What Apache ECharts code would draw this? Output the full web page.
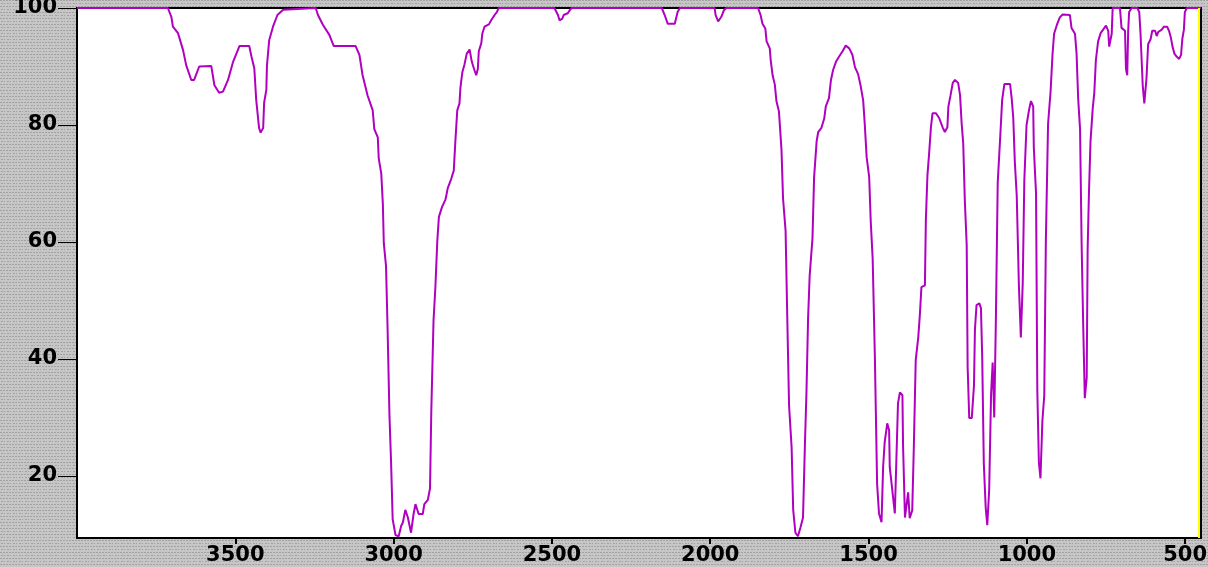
<!DOCTYPE html>
<html>
<head>
<meta charset="utf-8">
<title>IR spectrum</title>
<script src="https://cdn.jsdelivr.net/npm/echarts@6/dist/echarts.min.js"></script>
<style>
  html, body { margin: 0; padding: 0; background: #c4c4c4; }
  #chart { width: 1208px; height: 567px; }
</style>
</head>
<body>
<div id="chart"></div>
<script>
const wavenumbers = [
  4000, 3713, 3702, 3697, 3681, 3665, 3655, 3639, 3630, 3614, 3576, 3566, 3551, 3539, 3523, 3507,
  3487, 3456, 3449, 3440, 3434, 3425, 3420, 3412, 3409, 3402, 3400, 3393, 3381, 3367, 3349, 3344,
  3246, 3239, 3223, 3203, 3189, 3120, 3108, 3098, 3082, 3066, 3061, 3050, 3047, 3039, 3034, 3031,
  3024, 3019, 3013, 3008, 3003, 2994, 2984, 2976, 2971, 2963, 2955, 2945, 2937, 2931, 2921, 2908,
  2903, 2892, 2885, 2881, 2874, 2868, 2862, 2857, 2847, 2836, 2829, 2818, 2810, 2805, 2799, 2792,
  2789, 2783, 2776, 2769, 2760, 2753, 2745, 2739, 2734, 2731, 2723, 2720, 2713, 2699, 2692, 2681,
  2674, 2668, 2492, 2481, 2476, 2467, 2463, 2450, 2444, 2438, 2153, 2144, 2134, 2112, 2103, 2096,
  1986, 1983, 1975, 1965, 1957, 1949, 1849, 1841, 1835, 1826, 1822, 1812, 1809, 1803, 1796, 1791,
  1783, 1775, 1770, 1762, 1757, 1751, 1743, 1738, 1731, 1723, 1715, 1707, 1701, 1696, 1691, 1686,
  1677, 1672, 1664, 1659, 1649, 1640, 1635, 1625, 1619, 1612, 1603, 1593, 1582, 1572, 1561, 1551,
  1543, 1533, 1525, 1517, 1512, 1506, 1498, 1493, 1487, 1480, 1473, 1467, 1459, 1454, 1449, 1441,
  1435, 1433, 1425, 1417, 1412, 1407, 1401, 1393, 1391, 1385, 1380, 1375, 1370, 1362, 1357, 1351,
  1343, 1338, 1333, 1322, 1319, 1314, 1309, 1303, 1298, 1287, 1277, 1266, 1259, 1251, 1248, 1241,
  1234, 1227, 1217, 1211, 1206, 1201, 1196, 1190, 1187, 1182, 1174, 1167, 1164, 1159, 1150, 1145,
  1141, 1136, 1130, 1125, 1119, 1113, 1108, 1103, 1098, 1092, 1085, 1078, 1071, 1053, 1048, 1043,
  1038, 1032, 1025, 1019, 1013, 1008, 1001, 993, 987, 980, 978, 971, 967, 962, 957, 951,
  945, 940, 933, 925, 919, 914, 904, 896, 887, 864, 859, 848, 843, 838, 832, 827,
  822, 817, 811, 808, 804, 799, 792, 787, 782, 775, 767, 759, 750, 743, 740, 735,
  732, 729, 706, 701, 690, 687, 683, 680, 677, 669, 651, 645, 641, 634, 629, 624,
  622, 617, 609, 604, 595, 590, 585, 574, 567, 557, 551, 545, 540, 534, 527, 519,
  513, 509, 504, 501, 495, 450
];

// transmittance (%) at each wavenumber above
const transmittance = [
  100, 100, 98.5, 96.8, 95.7, 92.8, 90.2, 87.7, 87.7, 90.0, 90.1, 86.8, 85.5, 85.7, 87.7, 90.8,
  93.5, 93.5, 91.7, 89.7, 84.3, 79.5, 78.7, 79.5, 83.8, 86.0, 90.2, 94.5, 96.8, 98.8, 99.7, 100,
  100, 98.8, 97.1, 95.4, 93.5, 93.5, 92.0, 88.5, 85.0, 82.5, 79.3, 77.9, 74.3, 71.7, 66.5, 59.8,
  55.9, 45.1, 30.1, 22.3, 12.6, 9.9, 9.7, 11.5, 12.0, 14.2, 12.9, 10.3, 13.5, 15.2, 13.5, 13.5,
  15.2, 15.9, 17.9, 31.1, 46.5, 52.4, 60.2, 64.3, 66.0, 67.3, 69.2, 70.8, 72.2, 77.2, 82.5, 83.7,
  86.4, 89.0, 90.4, 92.2, 92.9, 90.8, 89.4, 88.5, 89.6, 92.6, 94.0, 95.6, 96.8, 97.2, 97.9, 98.8,
  99.3, 100, 100, 98.8, 97.9, 98.2, 98.8, 99.1, 99.6, 100, 100, 98.8, 97.3, 97.3, 99.3, 100,
  100, 98.8, 97.7, 98.5, 99.6, 100, 100, 98.8, 97.3, 96.5, 94.3, 93.1, 91.1, 88.5, 86.9, 84.1,
  82.3, 75.8, 67.4, 61.9, 47.9, 32.0, 24.9, 14.2, 10.3, 9.7, 11.2, 12.9, 25.3, 34.5, 46.9, 54.2,
  60.7, 71.0, 77.2, 78.8, 79.5, 81.1, 83.2, 84.6, 87.6, 89.4, 90.8, 91.7, 92.6, 93.6, 93.1, 92.0,
  89.9, 88.7, 86.7, 84.2, 80.2, 74.5, 71.1, 63.4, 57.2, 40.3, 18.7, 13.6, 12.1, 21.5, 25.8, 29.0,
  27.8, 21.5, 17.6, 13.6, 23.0, 32.4, 34.3, 33.8, 25.2, 12.9, 12.8, 17.2, 12.8, 14.1, 24.9, 39.8,
  43.7, 47.5, 52.3, 52.6, 63.7, 71.4, 74.9, 79.6, 82.0, 82.0, 81.2, 79.6, 78.8, 79.6, 83.1, 85.1,
  87.2, 87.7, 87.2, 85.1, 80.3, 76.9, 67.2, 59.5, 38.6, 29.9, 29.9, 35.5, 45.0, 49.2, 49.5, 48.7,
  40.3, 22.2, 14.6, 11.6, 17.6, 34.1, 39.4, 30.0, 46.1, 70.2, 77.1, 84.3, 87.0, 87.0, 84.6, 81.3,
  73.7, 68.0, 52.3, 43.7, 53.0, 70.6, 80.0, 82.6, 84.1, 83.2, 76.1, 68.3, 34.7, 22.3, 19.6, 29.4,
  33.8, 60.2, 80.2, 85.8, 92.0, 95.6, 97.3, 98.4, 98.9, 98.8, 96.6, 95.6, 92.2, 84.6, 79.3, 59.5,
  45.7, 33.3, 36.8, 58.9, 68.1, 77.2, 82.8, 85.5, 91.1, 94.3, 95.7, 96.3, 97.0, 96.1, 93.4, 93.4,
  95.6, 100, 100, 96.6, 96.1, 89.6, 88.5, 96.1, 99.3, 100, 100, 99.3, 95.6, 86.7, 83.7, 83.4,
  88.1, 93.8, 94.7, 96.1, 96.1, 95.2, 95.9, 96.3, 96.8, 96.8, 96.1, 94.9, 93.4, 92.2, 91.7, 91.3,
  92.0, 94.7, 96.3, 99.3, 100, 100
];

const xTicks = [500, 1000, 1500, 2000, 2500, 3000, 3500];
const yTicks = [20, 40, 60, 80, 100];
const cursorWavenumber = 456;

// grey dotted backdrop, like the old instrument software
function makePattern() {
  const c = document.createElement('canvas');
  c.width = 6;
  c.height = 6;
  const ctx = c.getContext('2d');
  ctx.fillStyle = '#c6c6c6';
  ctx.fillRect(0, 0, 6, 6);
  ctx.fillStyle = '#a2a2a2';
  ctx.fillRect(0, 0, 2, 1);
  ctx.fillRect(3, 0, 2, 1);
  ctx.fillRect(1, 3, 2, 1);
  ctx.fillRect(4, 3, 1, 1);
  return c;
}

const points = wavenumbers.map((w, i) => [w, transmittance[i]]);

const labelFont = {
  color: '#000',
  fontFamily: 'DejaVu Sans',
  fontWeight: 'bold',
  fontSize: 21,
  formatter: (v) => String(v),
};

const chart = echarts.init(document.getElementById('chart'));
chart.setOption({
  animation: false,
  backgroundColor: { image: makePattern(), repeat: 'repeat' },
  grid: {
    left: 77,
    right: 7,
    top: 8,
    bottom: 29,
    outerBoundsMode: 'none',
    containLabel: false,
    show: true,
    backgroundColor: '#ffffff',
    borderColor: '#000000',
    borderWidth: 2,
  },
  xAxis: {
    type: 'value',
    inverse: true,
    min: 450,
    max: 4000,
    axisLine: { show: true, lineStyle: { color: '#000', width: 2 } },
    axisTick: { show: true, customValues: xTicks, length: 6, lineStyle: { color: '#000', width: 2 } },
    axisLabel: Object.assign({ customValues: xTicks, margin: 7, hideOverlap: false }, labelFont),
    splitLine: { show: false },
  },
  yAxis: {
    type: 'value',
    min: 9.4,
    max: 100,
    axisLine: { show: true, lineStyle: { color: '#000', width: 2 } },
    axisTick: { show: true, customValues: yTicks, length: 19, lineStyle: { color: '#000', width: 1 } },
    axisLabel: Object.assign({ customValues: yTicks, margin: 20 }, labelFont),
    splitLine: { show: false },
  },
  series: [
    {
      type: 'line',
      data: points,
      symbol: 'none',
      clip: true,
      lineStyle: { color: '#b000c0', width: 2 },
      markLine: {
        silent: true,
        symbol: 'none',
        label: { show: false },
        lineStyle: { color: '#ffff00', width: 2, type: 'solid' },
        data: [{ xAxis: cursorWavenumber }],
      },
    },
  ],
});
</script>
</body>
</html>
